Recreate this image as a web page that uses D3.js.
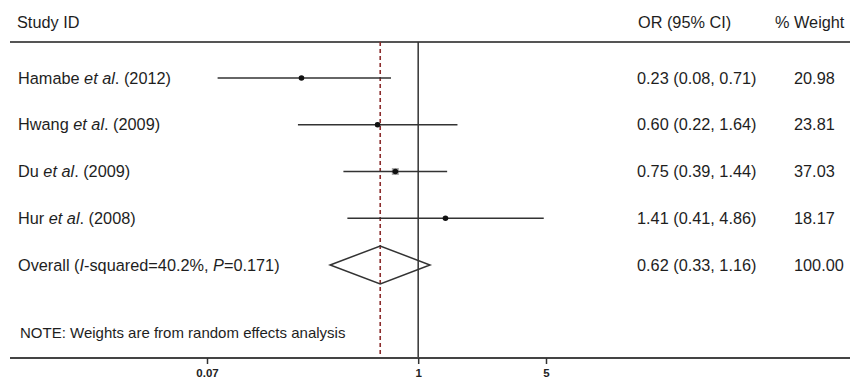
<!DOCTYPE html>
<html><head><meta charset="utf-8">
<script src="https://cdn.jsdelivr.net/npm/d3@7"></script>
<style>
html,body{margin:0;padding:0;background:#fff;}
svg{display:block;font-family:"Liberation Sans",Arial,sans-serif;}
</style></head>
<body>
<svg id="chart" width="850" height="381"></svg>
<script>
const studies = ["Hamabe", "Hwang", "Du", "Hur"];
const years = ["(2012)", "(2009)", "(2009)", "(2008)"];
const orValues = [0.23, 0.60, 0.75, 1.41];
const ciLow = [0.08, 0.22, 0.39, 0.41];
const ciHigh = [0.71, 1.64, 1.44, 4.86];
const weights = [20.98, 23.81, 37.03, 18.17];
const overall = {or: 0.62, lo: 0.33, hi: 1.16, weight: 100.00};
const tickValues = [0.07, 1, 5];
const tickLabels = ["0.07", "1", "5"];

(function draw() {
const svg = d3.select("#chart");
const x = d3.scaleLog().domain([0.07, 5]).range([207, 546]);
const y = d3.scalePoint().domain(d3.range(studies.length + 1)).range([78, 265]);
const fmt = d3.format(".2f");
const yTop = 42, yBottom = 358;
const txt = "#1e1e1e";
const fs = 16.3;

// header
svg.append("text").attr("x", 17).attr("y", 28).attr("font-size", fs).attr("fill", txt).text("Study ID");
svg.append("text").attr("x", 638).attr("y", 28).attr("font-size", fs).attr("fill", txt).text("OR (95% CI)");
svg.append("text").attr("x", 775).attr("y", 28).attr("font-size", fs).attr("fill", txt).text("% Weight");
svg.append("line").attr("x1", 10).attr("x2", 850).attr("y1", yTop).attr("y2", yTop)
  .attr("stroke", "#555").attr("stroke-width", 2);

// null line
svg.append("line").attr("x1", x(1)).attr("x2", x(1)).attr("y1", yTop).attr("y2", yBottom)
  .attr("stroke", "#333").attr("stroke-width", 1.5);
// overall dashed line
svg.append("line").attr("x1", x(overall.or)).attr("x2", x(overall.or)).attr("y1", yTop).attr("y2", yBottom)
  .attr("stroke", "#8b2c2c").attr("stroke-width", 1.6).attr("stroke-dasharray", "4,3");

// study rows
studies.forEach((s, i) => {
  const yy = y(i);
  const t = svg.append("text").attr("x", 18).attr("y", yy + 5.5).attr("font-size", fs).attr("fill", txt);
  t.append("tspan").text(s + " ");
  t.append("tspan").attr("font-style", "italic").text("et al");
  t.append("tspan").text(". " + years[i]);
  const side = weights[i] * 0.19;
  svg.append("rect").attr("x", x(orValues[i]) - side / 2).attr("y", yy - side / 2)
    .attr("width", side).attr("height", side).attr("fill", "#aaa");
  svg.append("line").attr("x1", x(ciLow[i])).attr("x2", x(ciHigh[i])).attr("y1", yy).attr("y2", yy)
    .attr("stroke", "#333").attr("stroke-width", 1.5);
  svg.append("circle").attr("cx", x(orValues[i])).attr("cy", yy).attr("r", 2.8).attr("fill", "#111");
  svg.append("text").attr("x", 637).attr("y", yy + 5.5).attr("font-size", fs).attr("fill", txt)
    .text(`${fmt(orValues[i])} (${fmt(ciLow[i])}, ${fmt(ciHigh[i])})`);
  svg.append("text").attr("x", 794).attr("y", yy + 5.5).attr("font-size", fs).attr("fill", txt)
    .text(fmt(weights[i]));
});

// overall row
const yo = y(studies.length);
const ot = svg.append("text").attr("x", 18).attr("y", yo + 5.5).attr("font-size", fs).attr("fill", txt);
ot.append("tspan").text("Overall (");
ot.append("tspan").attr("font-style", "italic").text("I");
ot.append("tspan").text("-squared=40.2%, ");
ot.append("tspan").attr("font-style", "italic").text("P");
ot.append("tspan").text("=0.171)");
const dh = 19;
svg.append("path")
  .attr("d", `M${x(overall.lo)},${yo} L${x(overall.or)},${yo - dh} L${x(overall.hi)},${yo} L${x(overall.or)},${yo + dh} Z`)
  .attr("fill", "none").attr("stroke", "#333").attr("stroke-width", 1.5);
svg.append("text").attr("x", 637).attr("y", yo + 5.5).attr("font-size", fs).attr("fill", txt)
  .text(`${fmt(overall.or)} (${fmt(overall.lo)}, ${fmt(overall.hi)})`);
svg.append("text").attr("x", 794).attr("y", yo + 5.5).attr("font-size", fs).attr("fill", txt)
  .text(fmt(overall.weight));

// note
svg.append("text").attr("x", 20).attr("y", 338).attr("font-size", 15).attr("fill", txt)
  .text("NOTE: Weights are from random effects analysis");

// axis
svg.append("line").attr("x1", 10).attr("x2", 850).attr("y1", yBottom).attr("y2", yBottom)
  .attr("stroke", "#444").attr("stroke-width", 2);
const axis = d3.axisBottom(x).tickValues(tickValues).tickSize(6)
  .tickFormat((d, i) => tickLabels[i]);
const g = svg.append("g").attr("transform", `translate(0,${yBottom})`).call(axis);
g.select(".domain").remove();
g.selectAll(".tick line").attr("stroke", "#333").attr("stroke-width", 1.5);
g.selectAll(".tick text").attr("font-size", 11.5).attr("font-weight", "bold")
  .attr("font-family", "'Liberation Sans',Arial,sans-serif").attr("fill", "#222")
  .attr("y", 11).attr("dy", "0.71em");
})();
</script>
</body></html>
